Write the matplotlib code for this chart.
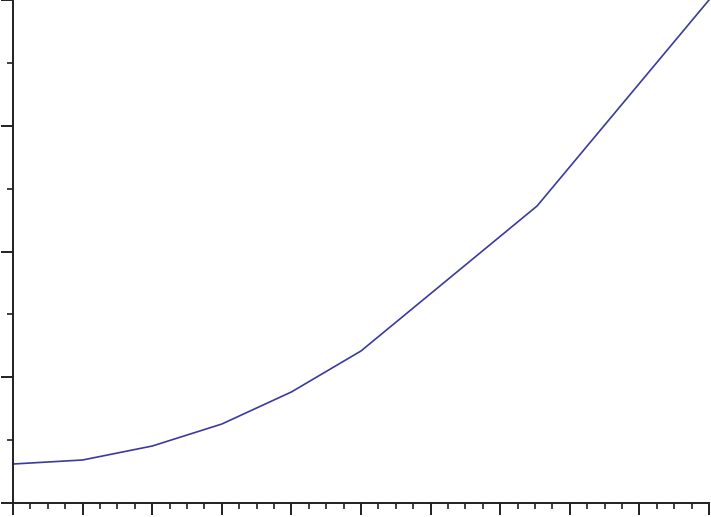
import matplotlib
matplotlib.use("Agg")
import matplotlib.pyplot as plt
from matplotlib.ticker import MultipleLocator, NullFormatter

x_vals = [0, 1, 2, 3, 4, 5, 7.53, 10]
y_vals = [0.31, 0.342, 0.453, 0.628, 0.883, 1.209, 2.362, 4.0]

fig = plt.figure(figsize=(7.11, 5.17), dpi=100)
ax = fig.add_axes([13/711, 14/517, 696/711, 503/517])
ax.plot(x_vals, y_vals, color="#3a3aa0", linewidth=1.2, clip_on=False)

ax.set_xlim(0, 10)
ax.set_ylim(0, 4)
ax.xaxis.set_major_locator(MultipleLocator(1))
ax.xaxis.set_minor_locator(MultipleLocator(0.25))
ax.yaxis.set_major_locator(MultipleLocator(1))
ax.yaxis.set_minor_locator(MultipleLocator(0.5))
ax.xaxis.set_major_formatter(NullFormatter())
ax.yaxis.set_major_formatter(NullFormatter())
ax.tick_params(which="major", direction="out", length=8.6, width=1.4, color="#231f20")
ax.tick_params(which="minor", direction="out", length=4.3, width=1.2, color="#231f20")
for s in ["top", "right"]:
    ax.spines[s].set_visible(False)
for s in ["left", "bottom"]:
    ax.spines[s].set_linewidth(1.4)
    ax.spines[s].set_color("#231f20")

fig.savefig("out.png", dpi=100)
